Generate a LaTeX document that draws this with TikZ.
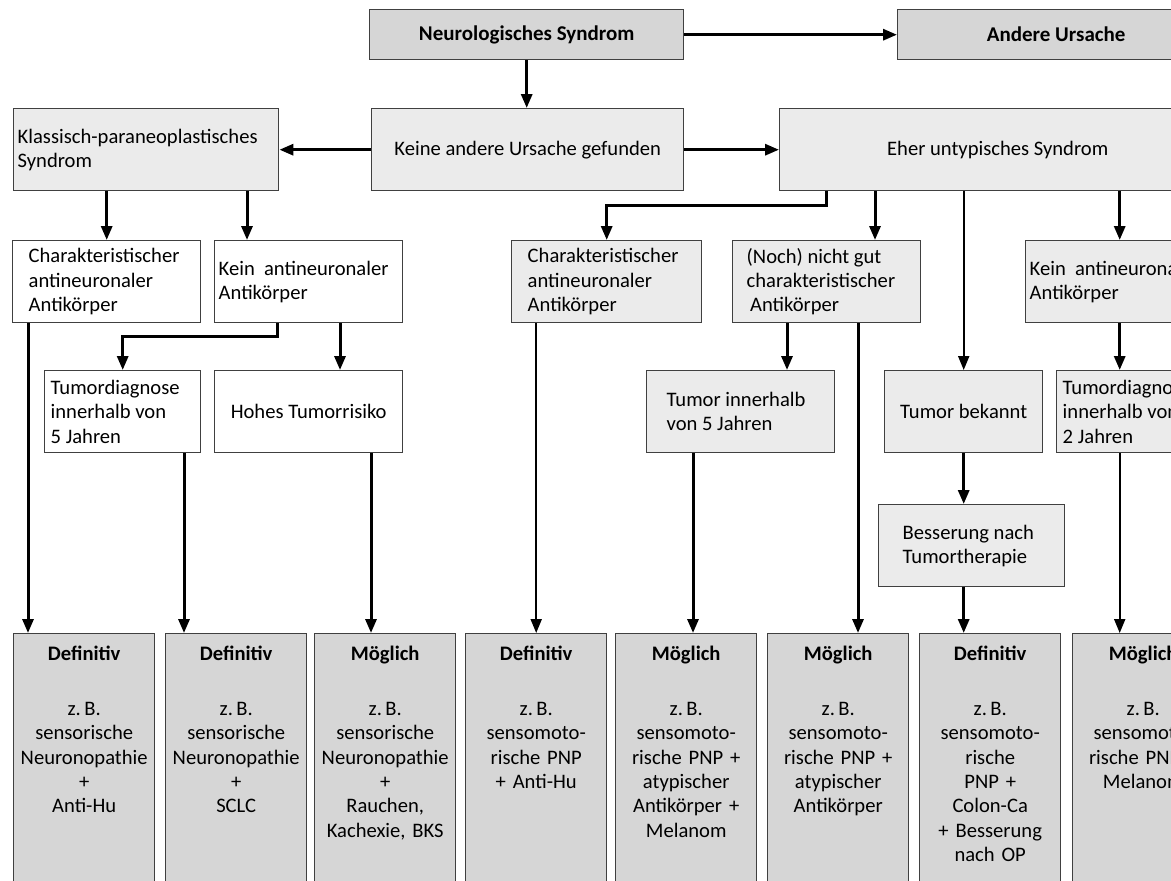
\documentclass[tikz,border=0pt]{standalone}
\usepackage{fontspec}
\setmainfont{Carlito}
\usetikzlibrary{arrows.meta,calc}
\definecolor{boxdark}{gray}{0.84}
\definecolor{boxlight}{gray}{0.92}
\definecolor{boxline}{gray}{0.25}
\tikzset{
  every picture/.style = {
    x = 0.5pt,
    y = -0.5pt,
    >={Triangle[length=7pt,width=5.5pt]},
  }
  ,
  box/.style = {
    rectangle,
    draw = boxline,
    line width = 0.7pt,
    anchor = north west,
    inner sep = 0pt,
    font = \fontsize{10.3}{12.2}\selectfont,
    minimum height = 41pt
  }
  , % top row
  head/.style = {
    box,
    fill = boxdark,
    minimum height = 25pt,
    font = \fontsize{10.5}{12.2}\selectfont\bfseries
  }
  ,
  plain/.style = {
    box,
    fill = boxlight
  }
  ,
  open/.style = {
    box,
    fill = white
  }
  , % bottom row
  result/.style = {
    box,
    fill = boxdark,
    text width = 70.5pt,
    align = center,
    text height = 13.3pt,
    text depth = 115pt
  }
  ,
  link/.style = {
    ->,
    line width = 1.5pt
  }
  ,
  link-thin/.style = {
    ->,
    line width = 1pt
  }
}

\begin{document}
\begin{tikzpicture}
  \useasboundingbox (0,0) rectangle (1171,880);
  \clip (0,0) rectangle (1171,880);

  \node[head, minimum width=157pt] (neuro) at (369,9) {Neurologisches Syndrom};
  \node[head, minimum width=158.5pt] (andere) at (897,9) {Andere Ursache};

  \node[plain, text width=128.5pt, inner xsep=2pt, align=flush left] (klassisch) at (13,108)
    {Klassisch-paraneoplastisches\\Syndrom};
  \node[plain, minimum width=156pt] (keine) at (371,108) {Keine andere Ursache gefunden};
  \node[plain, minimum width=218pt] (eher) at (779,108) {Eher untypisches Syndrom};

  \node[open, text width=78pt, inner xsep=8pt, align=flush left] (charL) at (12,240)
    {Charakteristischer\\antineuronaler\\Antikörper};
  \node[open, text width=90pt, inner xsep=2pt, align=flush left] (keinL) at (214,240)
    {Kein\hspace{0.45em}antineuronaler\\Antikörper};
  \node[open, text width=72pt, inner xsep=3pt, align=flush left] (tumorL) at (44,370)
    {Tumordiagnose\\innerhalb von\\5 Jahren};
  \node[open, minimum width=94pt] (risiko) at (214,370) {Hohes Tumorrisiko};

  \node[plain, text width=79pt, inner xsep=8pt, align=flush left] (charR) at (511,240)
    {Charakteristischer\\antineuronaler\\Antikörper};
  \node[plain, text width=80pt, inner xsep=7pt, align=flush left] (nochgut) at (732,240)
    {(Noch) nicht gut\\charakteristischer\\\,Antikörper};
  \node[plain, text width=90pt, inner xsep=2pt, align=flush left] (keinR) at (1025,240)
    {Kein\hspace{0.45em}antineuronaler\\Antikörper};
  \node[plain, text width=74pt, inner xsep=10pt, align=flush left] (tumor5) at (646,370)
    {Tumor innerhalb\\von 5 Jahren};
  \node[plain, minimum width=79pt] (bekannt) at (884,370) {Tumor bekannt};
  \node[plain, text width=72pt, inner xsep=3pt, align=flush left] (tumorR) at (1056,370)
    {Tumordiagnose\\innerhalb von\\2 Jahren};
  \node[plain, text width=69pt, inner xsep=12pt, align=flush left] (besserung) at (878,504)
    {Besserung nach\\Tumortherapie};

  \node[result] (res1) at (13,633)
    {\textbf{Definitiv}\\[15.3pt]z.\,B.\\sensorische\\Neuronopathie\\+\\Anti-Hu};
  \node[result] (res2) at (165,633)
    {\textbf{Definitiv}\\[15.3pt]z.\,B.\\sensorische\\Neuronopathie\\+\\SCLC};
  \node[result] (res3) at (314,633)
    {\textbf{Möglich}\\[15.3pt]z.\,B.\\sensorische\\Neuronopathie\\+\\Rauchen,\\Kachexie, BKS};
  \node[result] (res4) at (465,633)
    {\textbf{Definitiv}\\[15.3pt]z.\,B.\\sensomoto-\\rische PNP\\+ Anti-Hu};
  \node[result] (res5) at (615,633)
    {\textbf{Möglich}\\[15.3pt]z.\,B.\\sensomoto-\\rische PNP +\\atypischer\\Antikörper +\\Melanom};
  \node[result] (res6) at (767,633)
    {\textbf{Möglich}\\[15.3pt]z.\,B.\\sensomoto-\\rische PNP +\\atypischer\\Antikörper};
  \node[result] (res7) at (919,633)
    {\textbf{Definitiv}\\[15.3pt]z.\,B.\\sensomoto-\\rische\\PNP +\\Colon-Ca\\+ Besserung\\nach OP};
  \node[result] (res8) at (1072,633)
    {\textbf{Möglich}\\[15.3pt]z.\,B.\\sensomoto-\\rische PNP +\\Melanom};

  % upper part
  \draw[link] (neuro) -- (andere);
  \draw[link] (neuro.south) -- (neuro.south |- keine.north);
  \draw[link] (keine) -- (klassisch);
  \draw[link] (keine) -- (eher);

  \coordinate (kL1) at ($(keinL.north west)+(33,0)$);
  \draw[link] (klassisch.south -| charL) -- (charL.north);
  \draw[link] (klassisch.south -| kL1) -- (kL1);
  \draw[link] ($(keinL.south west)+(63,0)$) -- ++(0,13) -| (tumorL.north);
  \coordinate (kL2) at ($(keinL.south west)+(126,0)$);
  \draw[link] (kL2) -- (kL2 |- risiko.north);

  \coordinate (nG1) at ($(nochgut.north west)+(143,0)$);
  \draw[link] ($(eher.south west)+(47,0)$) -- ++(0,14) -| (charR.north);
  \draw[link] (eher.south -| nG1) -- (nG1);
  \draw[link-thin] (eher.south -| bekannt) -- (bekannt.north);
  \draw[link] (eher.south -| keinR) -- (keinR.north);

  \coordinate (nG2) at ($(nochgut.south west)+(55,0)$);
  \draw[link] (nG2) -- (nG2 |- tumor5.north);
  \draw[link] (bekannt.south) -- (bekannt.south |- besserung.north);
  \draw[link] (keinR.south) -- (keinR.south |- tumorR.north);

  % to the bottom row
  \coordinate (cL1) at ($(charL.south west)+(16,0)$);
  \coordinate (tL1) at ($(tumorL.south west)+(140,0)$);
  \coordinate (rk1) at ($(risiko.south west)+(157,0)$);
  \coordinate (t51) at ($(tumor5.south west)+(47,0)$);
  \coordinate (nG3) at ($(nochgut.south west)+(126,0)$);
  \draw[link] (cL1) -- (cL1 |- res1.north);
  \draw[link] (tL1) -- (tL1 |- res2.north);
  \draw[link] (rk1) -- (rk1 |- res3.north);
  \draw[link-thin] (charR.south -| res4) -- (res4.north);
  \draw[link] (t51) -- (t51 |- res5.north);
  \draw[link] (nG3) -- (nG3 |- res6.north);
  \draw[link] (besserung.south -| bekannt) -- (bekannt |- res7.north);
  \draw[link-thin] (tumorR.south -| keinR) -- (keinR |- res8.north);
\end{tikzpicture}
\end{document}
